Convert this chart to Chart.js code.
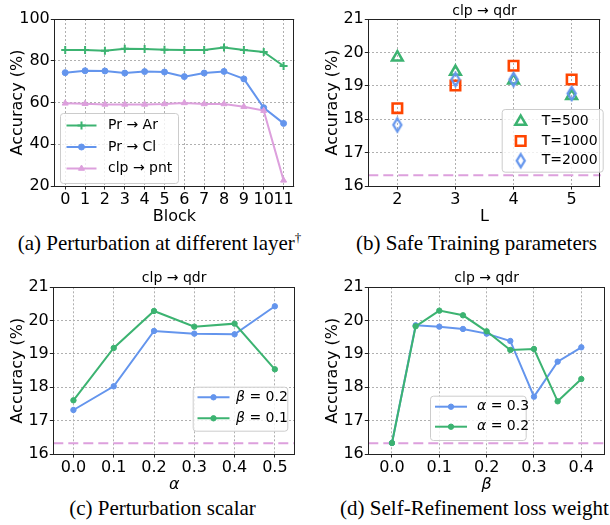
<!DOCTYPE html>
<html><head><meta charset="utf-8">
<script src="https://cdn.jsdelivr.net/npm/chart.js@4.4.1/dist/chart.umd.min.js"></script>
<style>
html,body{margin:0;padding:0;background:#fff}
body{width:610px;height:525px;overflow:hidden;position:relative}
canvas{position:absolute}
.cap{position:absolute;font-family:"Liberation Serif","Times New Roman",serif;font-size:21px;white-space:nowrap;color:#000;transform:translateX(-50%);line-height:1}
.cap sup{font-size:13px;vertical-align:0;position:relative;top:-8px;color:#000}
</style></head><body>
<canvas id="ca" width="305" height="228" style="left:0;top:0"></canvas>
<canvas id="cb" width="305" height="228" style="left:305px;top:0"></canvas>
<canvas id="cc" width="305" height="233" style="left:0;top:260px"></canvas>
<canvas id="cd" width="305" height="233" style="left:305px;top:260px"></canvas>
<div class="cap" style="left:159.5px;top:233px">(a) Perturbation at different layer<sup>†</sup></div>
<div class="cap" style="left:476.5px;top:233px">(b) Safe Training parameters</div>
<div class="cap" style="left:162.5px;top:498px">(c) Perturbation scalar</div>
<div class="cap" style="left:474.5px;top:498px">(d) Self-Refinement loss weight</div>
<script>
// ---------- data ----------
const blocks = [0,1,2,3,4,5,6,7,8,9,10,11];
const prAr   = [85.1,85.1,84.8,85.8,85.6,85.3,85.1,85.1,86.4,85.1,84.2,77.5];
const prCl   = [74.3,75.2,75.1,74.1,74.8,74.6,72.4,74.1,74.9,71.3,57.5,50.0];
const clpPnt = [59.6,59.4,59.1,59.1,59.1,59.3,59.8,59.3,59.3,58.0,56.1,22.7];
const blockTicks = [0,1,2,3,4,5,6,7,8,9,10,11];
const accTicksA = [20,40,60,80,100];

const Ls    = [2,3,4,5];
const t500  = [19.85,19.42,19.16,18.70];
const t1000 = [18.33,19.01,19.60,19.19];
const t2000 = [17.83,19.19,19.19,18.77];
const LTicks = [2,3,4,5];
const accTicks = [16,17,18,19,20,21];
const baseline = 16.32;

const alphas = [0,0.1,0.2,0.3,0.4,0.5];
const beta02 = [17.32,18.03,19.69,19.61,19.59,20.43];
const beta01 = [17.61,19.18,20.29,19.82,19.91,18.54];
const alphaTicks = [0,0.1,0.2,0.3,0.4,0.5];

const betas   = [0,0.05,0.1,0.15,0.2,0.25,0.3,0.35,0.4];
const alpha03 = [16.33,19.86,19.82,19.75,19.61,19.39,17.72,18.77,19.20];
const alpha02 = [16.33,19.83,20.30,20.16,19.68,19.12,19.15,17.58,18.25];
const betaTicks = [0,0.1,0.2,0.3,0.4];

// ---------- styles ----------
const C = {green:'#3cb371', blue:'#6495ed', pink:'#dda0dd', orange:'#ff4500'};
const FONT = "'DejaVu Sans', sans-serif";

function pts(xs, ys){ return xs.map((x,i)=>({x:x, y:ys[i]})); }

function thinDiamond(color){
  const c = document.createElement('canvas'); c.width = 14; c.height = 19;
  const g = c.getContext('2d'); g.strokeStyle = color; g.lineWidth = 2.3; g.lineJoin='miter';
  g.beginPath(); g.moveTo(7,3); g.lineTo(11,9.5); g.lineTo(7,16); g.lineTo(3,9.5); g.closePath(); g.stroke();
  return c;
}
const diamondImg = thinDiamond(C.blue);

function drawMarker(ctx, m, x, y){
  ctx.save();
  ctx.strokeStyle = m.color; ctx.fillStyle = m.fill || m.color; ctx.lineWidth = m.bw;
  if (Chart.helpers && Chart.helpers.drawPoint){
    Chart.helpers.drawPoint(ctx, {pointStyle:m.style, radius:m.r, borderWidth:m.bw, rotation:0}, x, y);
  }
  ctx.restore();
}

const extras = {
  id:'extras',
  beforeDatasetsDraw(chart, args, o){
    if (o.baseline == null) return;
    const ctx = chart.ctx, ca = chart.chartArea;
    const py = chart.scales.y.getPixelForValue(o.baseline);
    ctx.save();
    ctx.strokeStyle = C.pink; ctx.lineWidth = 2; ctx.setLineDash([10,5]);
    ctx.beginPath(); ctx.moveTo(ca.left, py); ctx.lineTo(ca.right, py); ctx.stroke();
    ctx.restore();
  },
  afterDatasetsDraw(chart, args, o){
    const ctx = chart.ctx, ca = chart.chartArea;
    ctx.save();
    ctx.strokeStyle = '#222'; ctx.lineWidth = 1;
    ctx.strokeRect(Math.round(ca.left)+0.5, Math.round(ca.top)+0.5, Math.round(ca.right-ca.left)-1, Math.round(ca.bottom-ca.top));
    ctx.restore();
    if (o.title){
      ctx.save(); ctx.fillStyle='#000'; ctx.font = '14px '+FONT; ctx.textAlign='center'; ctx.textBaseline='middle';
      ctx.fillText(o.title, (ca.left+ca.right)/2, o.titleY); ctx.restore();
    }
    const lg = o.legend; if (!lg) return;
    ctx.save();
    const f = lg.frame;
    ctx.beginPath();
    if (ctx.roundRect) ctx.roundRect(f.x+0.5, f.y+0.5, f.w, f.h, 3); else ctx.rect(f.x+0.5,f.y+0.5,f.w,f.h);
    ctx.fillStyle = 'rgba(255,255,255,0.8)'; ctx.fill();
    ctx.strokeStyle = '#cccccc'; ctx.lineWidth = 1; ctx.stroke();
    lg.items.forEach((it, i) => {
      const ry = lg.rows[i];
      if (lg.line){
        ctx.save(); ctx.strokeStyle = it.marker.color; ctx.lineWidth = 2;
        ctx.beginPath(); ctx.moveTo(lg.lineX0, ry); ctx.lineTo(lg.lineX1, ry); ctx.stroke(); ctx.restore();
        drawMarker(ctx, it.marker, (lg.lineX0+lg.lineX1)/2, ry);
      } else {
        drawMarker(ctx, it.marker, lg.markerX, ry);
      }
      let tx = lg.textX;
      ctx.fillStyle = '#000'; ctx.textBaseline = 'middle'; ctx.textAlign = 'left';
      it.parts.forEach(p => {
        ctx.font = (p.italic ? 'italic ' : '') + '14px ' + FONT;
        ctx.fillText(p.t, tx, ry);
        tx += ctx.measureText(p.t).width;
      });
    });
    ctx.restore();
  }
};

function axisCommon(){
  return {
    ticks:{autoSkip:false, maxRotation:0, minRotation:0, color:'#000', font:{family:FONT, size:16}},
    grid:{color:'#b0b0b0', lineWidth:1, tickColor:'#222', tickLength:3.5, tickWidth:1, tickBorderDash:[]},
    border:{display:false, dash:[2,2]}
  };
}

function build(id, p){
  const cv = document.getElementById(id);
  const W = cv.width, H = cv.height;
  const xa = axisCommon(), ya = axisCommon();
  Object.assign(xa, {
    type:'linear', min:p.xMin, max:p.xMax,
    afterBuildTicks: s => { s.ticks = p.xTicks.map(v => ({value:v})); },
    afterFit: s => { s.height = H - p.area.b; s.paddingLeft = 0; s.paddingRight = 0; },
    title:{display:true, text:p.xTitle, color:'#000', font:{family:FONT, size:16, style:p.xItalic?'italic':'normal', lineHeight:1}, padding:{top:0, bottom:p.xTitlePad}}
  });
  xa.ticks.padding = 1;
  xa.ticks.callback = v => p.xFmt(v);
  Object.assign(ya, {
    type:'linear', min:p.yMin, max:p.yMax,
    afterBuildTicks: s => { s.ticks = p.yTicks.map(v => ({value:v})); },
    afterFit: s => { s.width = p.area.l; s.paddingTop = 0; s.paddingBottom = 0; },
    title:{display:true, text:'Accuracy (%)', color:'#000', font:{family:FONT, size:16}, padding:{top:p.yTitlePad, bottom:0}}
  });
  ya.ticks.padding = 1;
  ya.ticks.callback = v => String(v);
  return new Chart(cv, {
    type: p.type || 'line',
    data: {datasets: p.datasets},
    options: {
      responsive:false, animation:false, devicePixelRatio:1,
      layout:{padding:{left:0, top:p.area.t, right:W - p.area.r, bottom:0}},
      scales:{x:xa, y:ya},
      plugins:{legend:{display:false}, tooltip:{enabled:false}, title:{display:false},
        extras:{baseline:p.baseline, title:p.title, titleY:p.titleY, legend:p.legend}},
      elements:{line:{tension:0}}
    },
    plugins:[extras]
  });
}

function lineDS(label, xs, ys, color, style, r, order){
  return {label, data:pts(xs, ys), borderColor:color, backgroundColor:color, borderWidth:2,
    pointStyle:style, pointRadius:r, pointBorderWidth:style==='cross'?2:1, pointBackgroundColor:color,
    pointBorderColor:color, fill:false, order:order};
}

// (a)
const mA = {
  ar:{style:'cross', r:4, bw:2, color:C.green},
  cl:{style:'circle', r:3, bw:1, color:C.blue},
  pn:{style:'triangle', r:3.5, bw:1, color:C.pink}
};
build('ca', {
  area:{l:54.3, r:294.5, t:19, b:186},
  xMin:-0.55, xMax:11.55, xTicks:blockTicks, xFmt:v=>String(v), xTitle:'Block', xTitlePad:3,
  yMin:20, yMax:100, yTicks:accTicksA, yTitlePad:8.4,
  datasets:[
    lineDS('Pr → Ar', blocks, prAr, C.green, 'cross', 4, 2),
    lineDS('Pr → Cl', blocks, prCl, C.blue, 'circle', 3, 1),
    lineDS('clp → pnt', blocks, clpPnt, C.pink, 'triangle', 3.5, 0)
  ],
  legend:{frame:{x:60, y:113, w:118, h:70}, line:true, lineX0:66.5, lineX1:96.5, textX:108,
    rows:[125.5,147,168.5],
    items:[{marker:mA.ar, parts:[{t:'Pr → Ar'}]},{marker:mA.cl, parts:[{t:'Pr → Cl'}]},{marker:mA.pn, parts:[{t:'clp → pnt'}]}]}
});

// (b)
const mB = {
  t5:{style:'triangle', r:6.2, bw:2.5, color:C.green, fill:'rgba(0,0,0,0)'},
  t10:{style:'rect', r:6.7, bw:2.6, color:C.orange, fill:'rgba(0,0,0,0)'},
  t20:{style:diamondImg, r:6, bw:0, color:C.blue, fill:'rgba(0,0,0,0)'}
};
function scatDS(label, xs, ys, m, order){
  return {label, data:pts(xs, ys), showLine:false, pointStyle:m.style, pointRadius:m.r,
    pointBorderWidth:m.bw, pointBorderColor:m.color, pointBackgroundColor:'rgba(0,0,0,0)',
    borderColor:m.color, backgroundColor:'rgba(0,0,0,0)', order:order};
}
build('cb', {
  type:'scatter',
  area:{l:63.3, r:304.3, t:19, b:186},
  xMin:1.5, xMax:5.5, xTicks:LTicks, xFmt:v=>String(v), xTitle:'L', xTitlePad:3,
  yMin:16, yMax:21, yTicks:accTicks, yTitlePad:18.4,
  baseline:baseline, title:'clp → qdr', titleY:11,
  datasets:[
    scatDS('T=500', Ls, t500, mB.t5, 2),
    scatDS('T=1000', Ls, t1000, mB.t10, 1),
    scatDS('T=2000', Ls, t2000, mB.t20, 0)
  ],
  legend:{frame:{x:196.7, y:109, w:101, h:62.7}, line:false, markerX:215.7, textX:236.7,
    rows:[121.7,141,160.7],
    items:[{marker:mB.t5, parts:[{t:'T=500'}]},{marker:mB.t10, parts:[{t:'T=1000'}]},{marker:mB.t20, parts:[{t:'T=2000'}]}]}
});

// (c)
const mC = {
  b:{style:'circle', r:2.7, bw:1, color:C.blue},
  g:{style:'circle', r:2.7, bw:1, color:C.green}
};
build('cc', {
  area:{l:53.3, r:295, t:27.3, b:194},
  xMin:-0.05, xMax:0.55, xTicks:alphaTicks, xFmt:v=>v.toFixed(1), xTitle:'α', xItalic:true, xTitlePad:0,
  yMin:16, yMax:21, yTicks:accTicks, yTitlePad:8.7,
  baseline:baseline, title:'clp → qdr', titleY:18.3,
  datasets:[
    lineDS('β = 0.2', alphas, beta02, C.blue, 'circle', 2.7, 1),
    lineDS('β = 0.1', alphas, beta01, C.green, 'circle', 2.7, 0)
  ],
  legend:{frame:{x:192.7, y:126.7, w:94.6, h:44}, line:true, lineX0:197.5, lineX1:229.5, textX:236,
    rows:[137.3,158.3],
    items:[{marker:mC.b, parts:[{t:'β', italic:true},{t:' = 0.2'}]},{marker:mC.g, parts:[{t:'β', italic:true},{t:' = 0.1'}]}]}
});

// (d)
build('cd', {
  area:{l:63.3, r:304.5, t:27.3, b:194},
  xMin:-0.05, xMax:0.45, xTicks:betaTicks, xFmt:v=>v.toFixed(1), xTitle:'β', xItalic:true, xTitlePad:0,
  yMin:16, yMax:21, yTicks:accTicks, yTitlePad:18.4,
  baseline:baseline, title:'clp → qdr', titleY:18.3,
  datasets:[
    lineDS('α = 0.3', betas, alpha03, C.blue, 'circle', 2.7, 1),
    lineDS('α = 0.2', betas, alpha02, C.green, 'circle', 2.7, 0)
  ],
  legend:{frame:{x:125, y:135.7, w:95.7, h:44.3}, line:true, lineX0:130, lineX1:162, textX:172,
    rows:[146.7,166.7],
    items:[{marker:mC.b, parts:[{t:'α', italic:true},{t:' = 0.3'}]},{marker:mC.g, parts:[{t:'α', italic:true},{t:' = 0.2'}]}]}
});
</script>
</body></html>
